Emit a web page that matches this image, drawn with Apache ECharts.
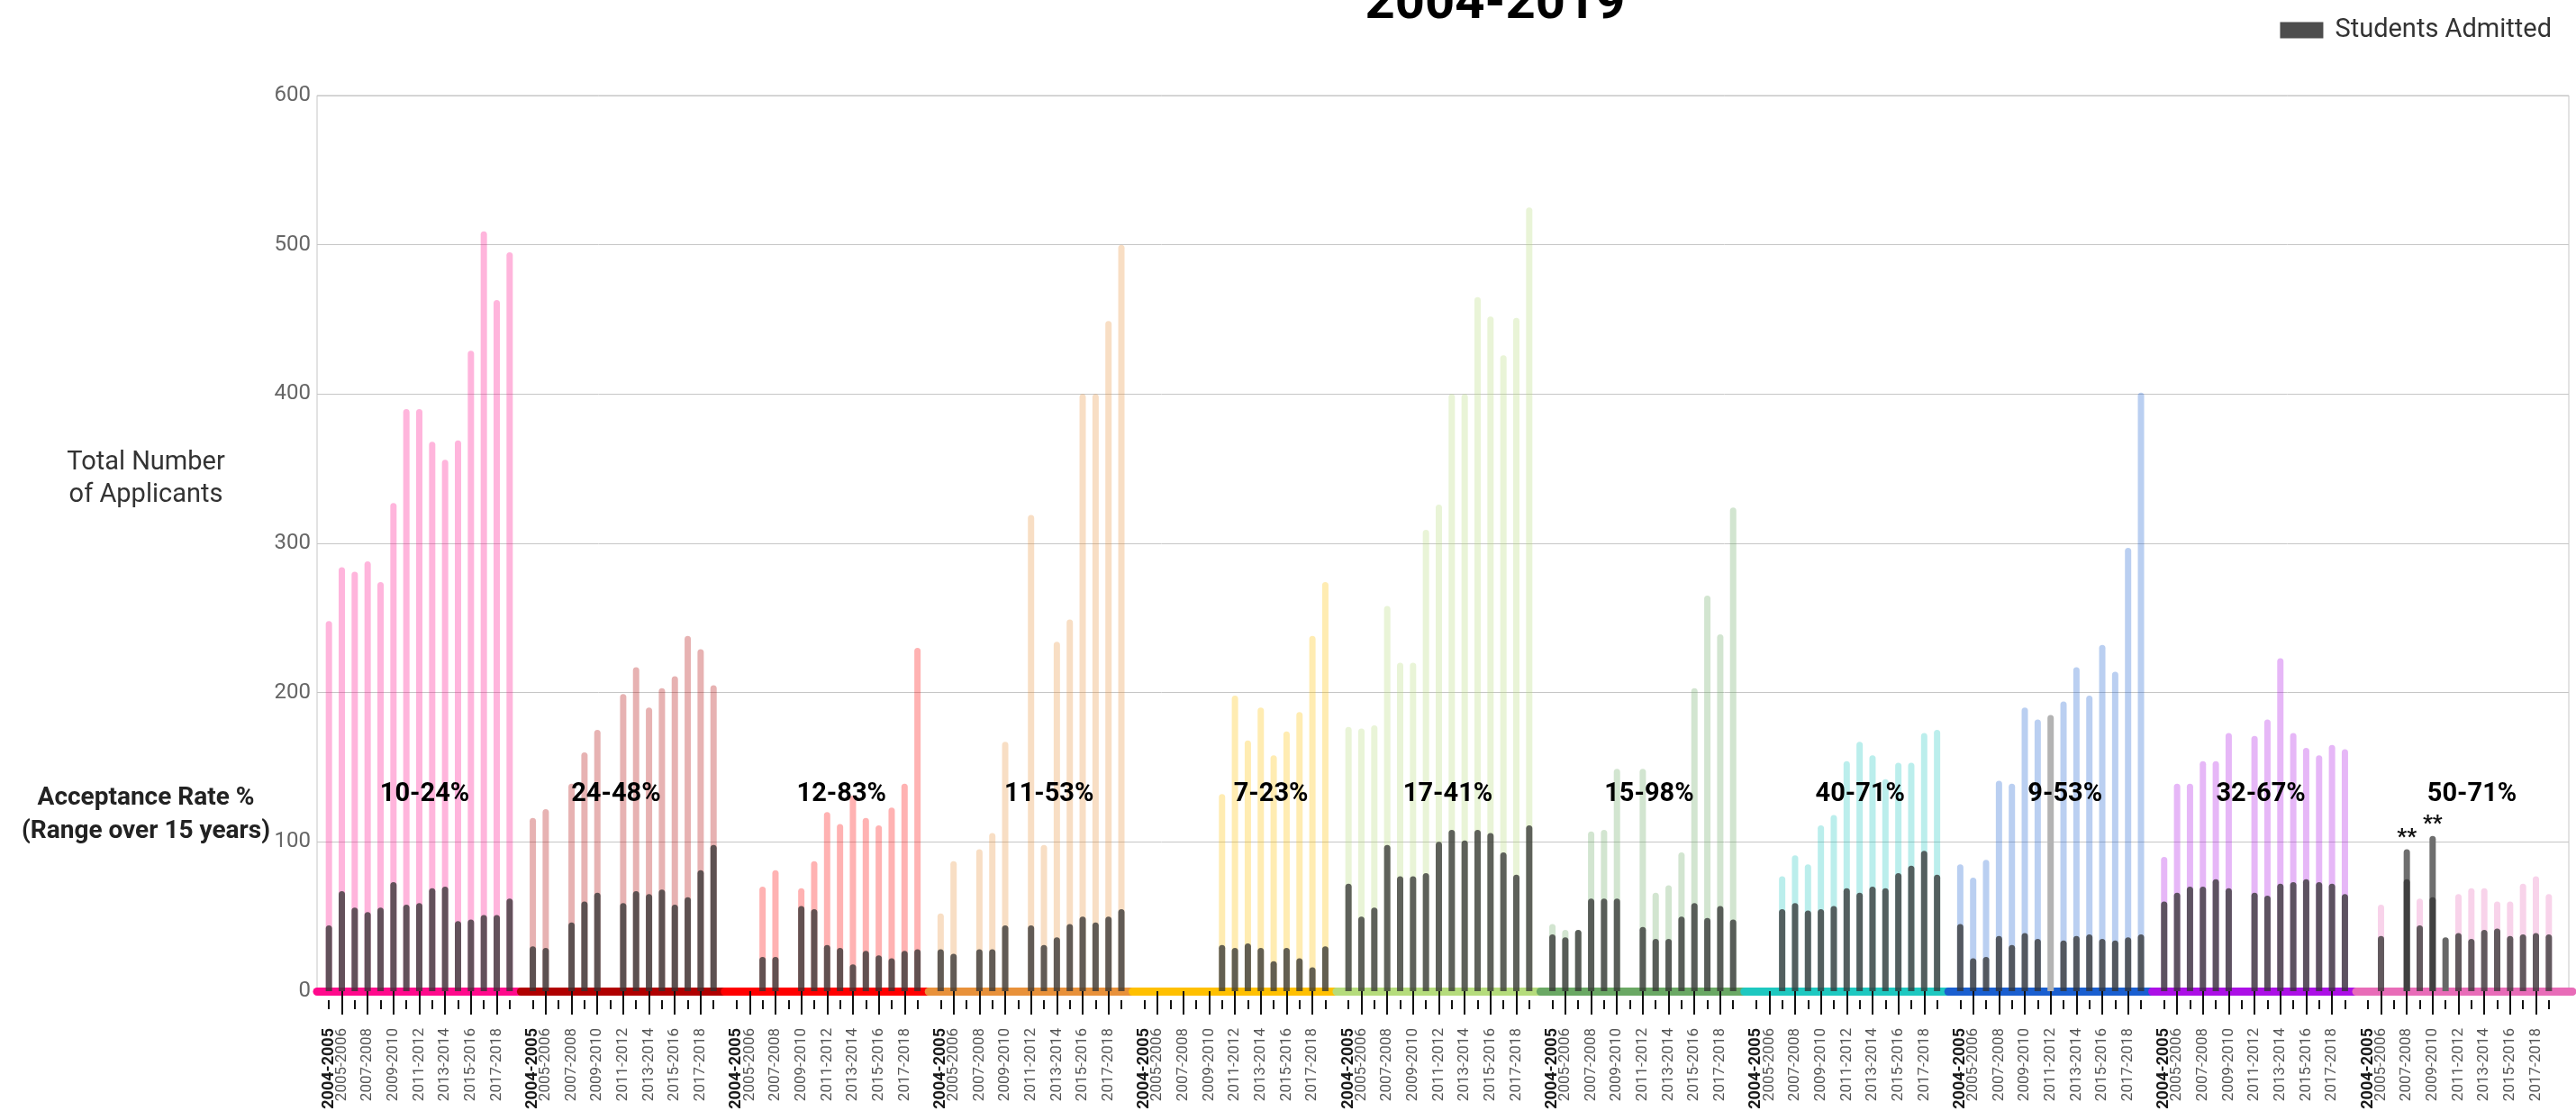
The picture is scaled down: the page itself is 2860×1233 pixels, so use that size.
<!DOCTYPE html>
<html>
<head>
<meta charset="utf-8">
<script src="https://cdn.jsdelivr.net/npm/echarts@6/dist/echarts.min.js"></script>
<style>
html, body { margin: 0; padding: 0; background: #fff; }
#chart { width: 2860px; height: 1233px; }
</style>
</head>
<body>
<div id="chart"></div>
<script>
var years = ['2004-2005', '2005-2006', '2006-2007', '2007-2008', '2008-2009', '2009-2010', '2010-2011',
    '2011-2012', '2012-2013', '2013-2014', '2014-2015', '2015-2016', '2016-2017', '2017-2018', '2018-2019'];

var rateRanges = ['10-24%', '24-48%', '12-83%', '11-53%', '7-23%', '17-41%', '15-98%', '40-71%', '9-53%', '32-67%', '50-71%'];

// total applicants per program, one value per year
var applicantsA = [248, 284, 281, 288, 274, 327, 390, 390, 368, 356, 369, 429, 509, 463, 495];
var applicantsB = [116, 122, null, 139, 160, 175, null, 199, 217, 190, 203, 211, 238, 229, 205];
var applicantsC = [null, null, 70, 81, null, 69, 87, 120, 112, 131, 116, 111, 123, 139, 230];
var applicantsD = [52, 87, null, 95, 106, 167, null, 319, 98, 234, 249, 400, 400, 449, 500];
var applicantsE = [null, null, null, null, null, null, 132, 198, 168, 190, 158, 174, 187, 238, 274];
var applicantsF = [177, 176, 178, 258, 220, 220, 309, 326, 400, 400, 465, 452, 426, 451, 525];
var applicantsG = [45, 41, 41, 107, 108, 149, null, 149, 66, 71, 93, 203, 265, 239, 324];
var applicantsH = [null, null, 77, 91, 85, 111, 118, 154, 167, 158, 142, 153, 153, 173, 175];
var applicantsI = [85, 76, 88, 141, 139, 190, 182, 185, 194, 217, 198, 232, 214, 297, 401];
var applicantsJ = [90, 139, 139, 154, 154, 173, null, 171, 182, 223, 173, 163, 158, 165, 162];
var applicantsK = [null, 58, null, 95, 62, 104, 36, 65, 69, 69, 60, 60, 72, 77, 65];

// students admitted per program
var admittedA = [44, 67, 56, 53, 56, 73, 58, 59, 69, 70, 47, 48, 51, 51, 62];
var admittedB = [30, 29, null, 46, 60, 66, null, 59, 67, 65, 68, 58, 63, 81, 98];
var admittedC = [null, null, 23, 23, null, 57, 55, 31, 29, 18, 27, 24, 22, 27, 28];
var admittedD = [28, 25, null, 28, 28, 44, null, 44, 31, 36, 45, 50, 46, 50, 55];
var admittedE = [null, null, null, null, null, null, 31, 29, 32, 29, 20, 29, 22, 16, 30];
var admittedF = [72, 50, 56, 98, 77, 77, 79, 100, 108, 101, 108, 106, 93, 78, 111];
var admittedG = [38, 36, 41, 62, 62, 62, null, 43, 35, 35, 50, 59, 49, 57, 48];
var admittedH = [null, null, 55, 59, 54, 55, 57, 69, 66, 70, 69, 79, 84, 94, 78];
var admittedI = [45, 22, 23, 37, 31, 39, 35, null, 34, 37, 38, 35, 34, 36, 38];
var admittedJ = [60, 66, 70, 70, 75, 69, null, 66, 64, 72, 73, 75, 73, 72, 65];
var admittedK = [null, 37, null, 75, 44, 63, null, 39, 35, 41, 42, 37, 38, 39, 38];

var applicants = [applicantsA, applicantsB, applicantsC, applicantsD, applicantsE, applicantsF,
    applicantsG, applicantsH, applicantsI, applicantsJ, applicantsK];
var admitted = [admittedA, admittedB, admittedC, admittedD, admittedE, admittedF,
    admittedG, admittedH, admittedI, admittedJ, admittedK];

var bandColors = ['#ff0a8c', '#b00000', '#ff0000', '#e8913a', '#ffc000', '#b5dc7c',
    '#6aa864', '#1ec8c0', '#1a5fd0', '#ac10e6', '#e86cb8'];

// bars drawn in grey in the original (group, year index), some flagged with **
var greyBars = [
    { g: 8, i: 7, color: '#b3b3b3' },
    { g: 10, i: 3, color: '#6e6e6e', note: '**' },
    { g: 10, i: 5, color: '#6e6e6e', note: '**' },
    { g: 10, i: 6, color: '#676767' }
];

// layout
var plotLeft = 352, plotTop = 106, plotBottom = 133;
var groupPitch = 226.4, barInset = 6, barAreaWidth = 215;
var labelShift = [6, -8, 16, 20, 40, 10, 7, 15, 16, 7, 15];
var fontFamily = 'Roboto, "Noto Sans", sans-serif';

function rgba(hex, a) {
    var n = parseInt(hex.slice(1), 16);
    return 'rgba(' + (n >> 16) + ',' + ((n >> 8) & 255) + ',' + (n & 255) + ',' + a + ')';
}

var chart = echarts.init(document.getElementById('chart'));

var grids = [{
    left: plotLeft, right: 8, top: plotTop, bottom: plotBottom,
    show: true, borderColor: '#c6c6c6', borderWidth: 1, backgroundColor: 'transparent',
    outerBoundsMode: 'none'
}];
var xAxes = [{ gridIndex: 0, type: 'category', data: [''], show: false }];
var yAxes = [{
    gridIndex: 0, type: 'value', min: 0, max: 600, interval: 100,
    axisLine: { show: false }, axisTick: { show: false },
    axisLabel: { fontSize: 24, color: '#666', margin: 7, fontFamily: fontFamily },
    splitLine: { lineStyle: { color: '#c6c6c6', width: 1 } }
}];
var series = [];

rateRanges.forEach(function (range, g) {
    var groupLeft = plotLeft + g * groupPitch;

    // band under each program
    grids.push({ left: groupLeft, width: g === 10 ? 2856 - groupLeft : groupPitch, top: plotTop, bottom: plotBottom, outerBoundsMode: 'none' });
    var bandGrid = grids.length - 1;
    xAxes.push({
        gridIndex: bandGrid, type: 'category', position: 'bottom', data: [''], offset: 6,
        axisLine: { lineStyle: { color: bandColors[g], width: 9 } },
        axisTick: { show: false }, axisLabel: { show: false }, splitLine: { show: false }
    });
    yAxes.push({ gridIndex: bandGrid, type: 'value', min: 0, max: 600, show: false });

    // bars
    grids.push({ left: groupLeft + barInset, width: barAreaWidth, top: plotTop, bottom: plotBottom, outerBoundsMode: 'none' });
    var barGrid = grids.length - 1;
    var mainX = xAxes.length;
    // long ticks + every other year label
    xAxes.push({
        gridIndex: barGrid, type: 'category', position: 'bottom', data: years, offset: 10,
        axisLine: { show: false },
        axisTick: {
            show: true, alignWithLabel: true, length: 26,
            interval: function (i) { return i % 2 === 1 && i < 14; },
            lineStyle: { color: '#111', width: 2 }
        },
        axisLabel: {
            rotate: 90, margin: 31, fontSize: 17, color: '#555', fontFamily: fontFamily,
            padding: [8, 0, 0, 0],
            showMinLabel: true, showMaxLabel: true, hideOverlap: false,
            interval: function (i) { return i % 2 === 1 && i < 14; }
        },
        splitLine: { show: false }
    });
    // short ticks + bold first year
    xAxes.push({
        gridIndex: barGrid, type: 'category', position: 'bottom', data: years, offset: 10,
        axisLine: { show: false },
        axisTick: { show: true, alignWithLabel: true, length: 10, interval: 0, lineStyle: { color: '#111', width: 2 } },
        axisLabel: {
            rotate: 90, margin: 31, fontSize: 18, fontWeight: 'bold', color: '#1a1a1a', fontFamily: fontFamily,
            padding: [0, 0, 8, 0],
            showMinLabel: true, hideOverlap: false,
            interval: function (i) { return i === 0; }
        },
        splitLine: { show: false }
    });
    var yIdx = yAxes.length;
    yAxes.push({ gridIndex: barGrid, type: 'value', min: 0, max: 600, show: false });

    var appData = applicants[g].map(function (v, i) {
        var grey = greyBars.filter(function (b) { return b.g === g && b.i === i; })[0];
        if (!grey) return v;
        var item = { value: v, itemStyle: { color: grey.color } };
        if (grey.note) {
            item.label = {
                show: true, position: 'top', distance: 1, formatter: grey.note,
                fontSize: 24, fontWeight: 'bold', color: '#111', fontFamily: fontFamily
            };
        }
        return item;
    });

    series.push({
        type: 'bar', name: 'Total Applicants',
        xAxisIndex: mainX, yAxisIndex: yIdx,
        data: appData, barWidth: 7, barGap: '-100%', z: 2,
        itemStyle: { color: rgba(bandColors[g], 0.3), borderRadius: [4, 4, 0, 0] }
    });
    series.push({
        type: 'bar', name: 'Students Admitted',
        xAxisIndex: mainX, yAxisIndex: yIdx,
        data: admitted[g], barWidth: 7, barGap: '-100%', z: 3,
        itemStyle: { color: 'rgba(50,50,50,0.76)', borderRadius: [4, 4, 0, 0] },
        markPoint: {
            silent: true, symbol: 'circle', symbolSize: 1,
            itemStyle: { color: 'rgba(0,0,0,0)' },
            label: {
                show: true, position: 'inside', formatter: range, offset: [labelShift[g], 0],
                fontSize: 29, fontWeight: 'bold', color: '#000', fontFamily: fontFamily
            },
            data: [{ coord: [years[7], 132] }]
        }
    });
});

var option = {
    backgroundColor: '#fff',
    animation: false,
    title: [
        {
            text: '2004-2019', left: 1655, top: -29, textAlign: 'center',
            textStyle: { fontSize: 58, fontWeight: 'bold', color: '#000', fontFamily: fontFamily }
        },
        {
            text: 'Total Number\nof Applicants', left: 157, top: 491, textAlign: 'center',
            textStyle: { fontSize: 29, fontWeight: 'normal', color: '#333', lineHeight: 36, fontFamily: fontFamily }
        },
        {
            text: 'Acceptance Rate %\n(Range over 15 years)', left: 157, top: 862, textAlign: 'center',
            textStyle: { fontSize: 28, fontWeight: 'bold', color: '#222', lineHeight: 37, fontFamily: fontFamily }
        }
    ],
    legend: {
        data: [{ name: 'Students Admitted', itemStyle: { color: '#4d4d4d' } }],
        right: 22, top: 14, icon: 'rect', itemWidth: 48, itemHeight: 18,
        textStyle: { fontSize: 29, color: '#333', fontFamily: fontFamily, padding: [0, 0, 0, 8] }
    },
    grid: grids,
    xAxis: xAxes,
    yAxis: yAxes,
    series: series
};

chart.setOption(option);
</script>
</body>
</html>
